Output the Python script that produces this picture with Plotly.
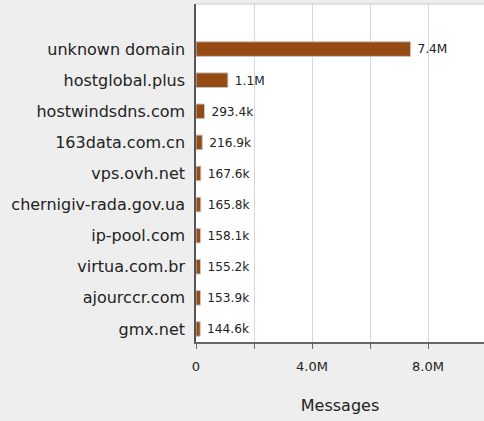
import plotly.graph_objects as go

domains = ["unknown domain", "hostglobal.plus", "hostwindsdns.com", "163data.com.cn",
           "vps.ovh.net", "chernigiv-rada.gov.ua", "ip-pool.com", "virtua.com.br",
           "ajourccr.com", "gmx.net"]
messages = [7.4e6, 1.1e6, 293400, 216900, 167600, 165800, 158100, 155200, 153900, 144600]
labels = ["7.4M", "1.1M", "293.4k", "216.9k", "167.6k", "165.8k", "158.1k", "155.2k", "153.9k", "144.6k"]
tick_vals = [0, 2e6, 4e6, 6e6, 8e6]
tick_text = ["0", "", "4.0M", "", "8.0M"]

# bottom-to-top order
y_order = domains[::-1]

fig = go.Figure(go.Bar(
    x=messages, y=domains, orientation="h",
    marker=dict(color="#964a14", line=dict(color="#c8c8c8", width=1)),
    width=0.47,
    text=[" " + t for t in labels], textposition="outside",
    textfont=dict(family="DejaVu Sans", size=12.5, color="#222222"),
    cliponaxis=False,
))

fig.update_layout(
    width=484, height=421,
    margin=dict(l=196, r=0, t=4, b=79),
    paper_bgcolor="#eeeeee", plot_bgcolor="#ffffff",
    font=dict(family="DejaVu Sans", color="#222222"),
    showlegend=False,
    shapes=[dict(type="line", xref="paper", yref="paper", x0=0, x1=1, y0=1, y1=1,
                 line=dict(color="#cccccc", width=1))],
)
fig.update_xaxes(
    range=[0, 9.93e6], tickvals=tick_vals, ticktext=tick_text,
    showgrid=True, gridcolor="#d8d8d8", gridwidth=1, zeroline=False,
    showline=True, linecolor="#666666", linewidth=1.5,
    ticks="outside", ticklen=5, tickcolor="#666666",
    tickfont=dict(size=13, color="#222222"), ticklabelstandoff=7,
    title=dict(text="Messages", font=dict(size=16, color="#222222"), standoff=26),
)
fig.update_yaxes(
    categoryorder="array", categoryarray=y_order,
    range=[-0.42, 10.45], showgrid=False, zeroline=False,
    showline=True, linecolor="#555555", linewidth=1.5,
    ticks="", tickfont=dict(size=16, color="#222222"), ticklabelstandoff=6,
)

fig.write_html(
    "out.html",
    config={"displayModeBar": False},
    post_script="document.body.style.margin='0';document.body.style.padding='0';document.body.style.overflow='hidden';",
)
